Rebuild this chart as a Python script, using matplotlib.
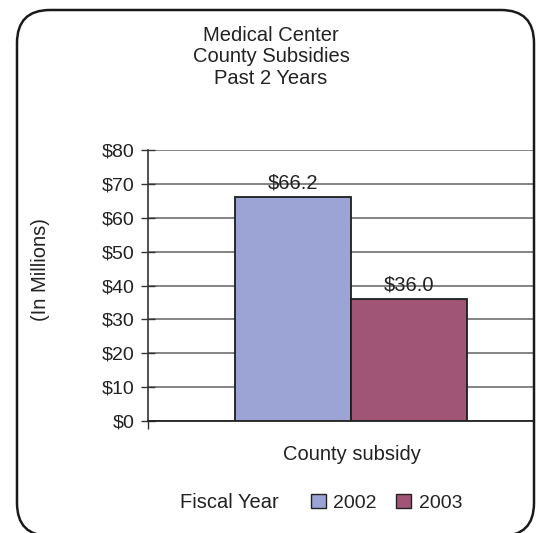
import matplotlib
matplotlib.use("Agg")
import matplotlib.pyplot as plt
from matplotlib.patches import FancyBboxPatch, Patch

plt.rcParams['font.family'] = ['Liberation Sans', 'DejaVu Sans']

# ---- data ----
title_lines = ["Medical Center", "County Subsidies", "Past 2 Years"]
categories = ["County subsidy"]
years = ["2002", "2003"]
values = [66.2, 36.0]
colors = ["#9ba4d4", "#a05577"]
yticks = [0, 10, 20, 30, 40, 50, 60, 70, 80]
ytick_labels = ["$0", "$10", "$20", "$30", "$40", "$50", "$60", "$70", "$80"]
ylabel = "(In Millions)"
legend_title = "Fiscal Year"

W, H = 542, 533
fig = plt.figure(figsize=(W / 100, H / 100), dpi=100)
fig.patch.set_facecolor("white")

# rounded outer frame (inches)
box = FancyBboxPatch((0.17, -0.03), 5.17, 5.26,
                     boxstyle="round,pad=0,rounding_size=0.33",
                     transform=fig.dpi_scale_trans, fill=False,
                     lw=1.8, ec="#1a1a1a", zorder=10)
fig.patches.append(box)

ax = fig.add_axes([148 / W, 1 - 421 / H, (533 - 148) / W, (421 - 150) / H])
bw = 1.0
n = len(years)
for i, (yr, v, c) in enumerate(zip(years, values, colors)):
    x = (i - (n - 1) / 2) * bw
    ax.bar(x, v, bw, color=c, edgecolor="#1e1e1e", lw=1.3, zorder=3, label=yr)
    ax.annotate(f"${v:.1f}", (x, v), xytext=(0, 3), textcoords="offset points",
                ha="center", va="bottom", fontsize=14.5, color="#222222", zorder=4)

ax.set_xlim(-1.754, 1.565)
ax.set_ylim(0, 80)
ax.set_yticks(yticks)
ax.set_yticklabels(ytick_labels, fontsize=14, color="#222222")
ax.set_xticks([0])
ax.set_xticklabels(categories, fontsize=14.5, color="#222222")
ax.set_xticks([-1.754], minor=True)
ax.tick_params(axis="x", which="major", length=0, pad=17)
ax.tick_params(axis="x", which="minor", length=6, width=1.0, direction="out", color="#333333")
ax.tick_params(axis="y", length=10, width=1.0, direction="inout", color="#333333", pad=5)

ax.yaxis.grid(True, color="#7a7a7a", lw=1.3)
ax.set_axisbelow(True)
for s in ["top", "right"]:
    ax.spines[s].set_visible(False)
ax.spines["left"].set_color("#333333")
ax.spines["bottom"].set_color("#222222")
ax.spines["left"].set_linewidth(1.2)
ax.spines["bottom"].set_linewidth(1.3)

fig.text(0.5, 1 - 57 / H, "\n".join(title_lines), ha="center", va="center",
         fontsize=14.5, linespacing=1.15, color="#222222")
fig.text(40 / W, 1 - 270 / H, ylabel, rotation=90, ha="center", va="center",
         fontsize=14.5, color="#222222")

fig.text(180 / W, 1 - 503 / H, legend_title, ha="left", va="center",
         fontsize=14.5, color="#222222")
handles = [Patch(fc=c, ec="#222222", lw=1.0) for c in colors]
fig.legend(handles, years, loc="center left", bbox_to_anchor=(311 / W, 1 - 503 / H),
           frameon=False, ncol=2, handlelength=0.75, handleheight=0.75,
           handletextpad=0.4, columnspacing=1.0, borderpad=0, borderaxespad=0,
           fontsize=14, labelcolor="#222222")

fig.savefig("out.png", dpi=100)
